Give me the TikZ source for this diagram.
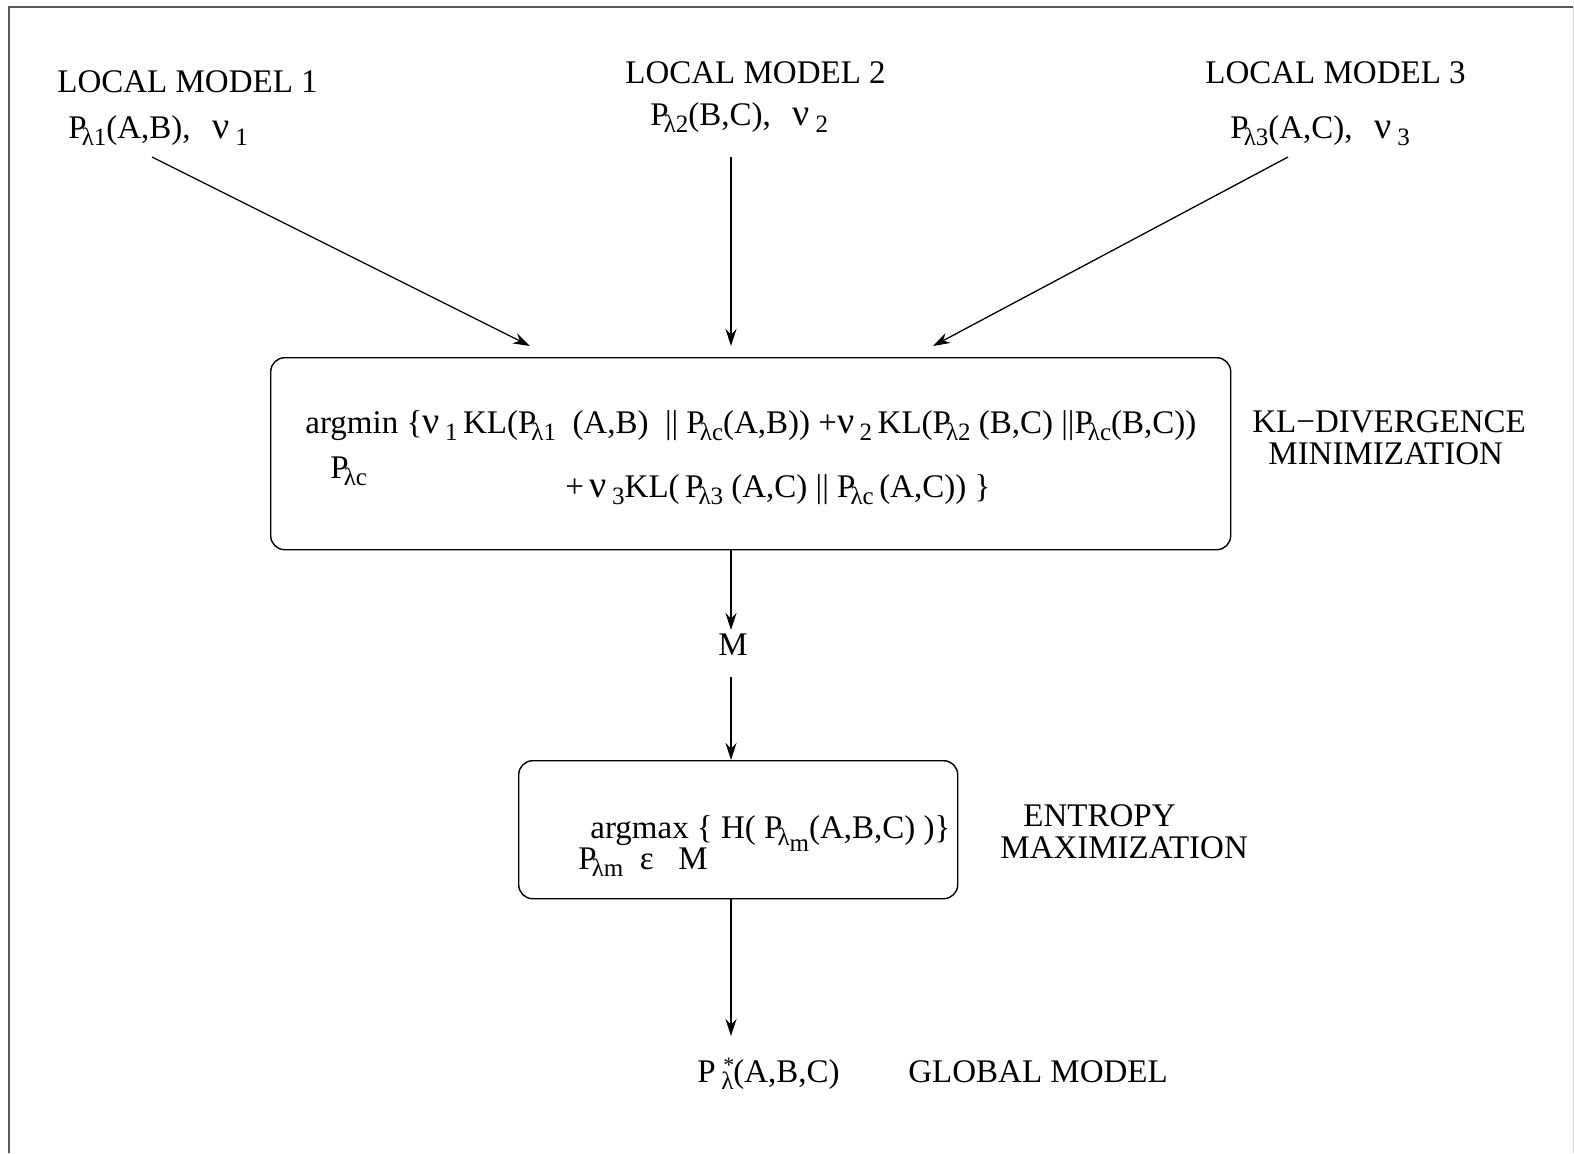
\documentclass[tikz,border=0pt]{standalone}
\usepackage{fontspec}
\setmainfont{Liberation Serif}
\usetikzlibrary{arrows.meta}
\newcommand\sbs[1]{\raisebox{-0.5ex}{\fontsize{12.5}{12.5}\selectfont #1}}
\newcommand\Pk{P\kern-2.5pt}
\newcommand\nuu{{\fontsize{19}{19}\selectfont ν}}
\begin{document}
\begin{tikzpicture}[x=0.5pt,y=-0.5pt,
  txt/.style={inner sep=0pt,anchor=base west,font=\fontsize{16.5}{18}\selectfont},
  arr/.style={-{Stealth[length=8.5pt,width=5.5pt]},line width=0.65pt},
  box/.style={draw,rounded corners=7pt,line width=0.7pt}]
\useasboundingbox (0,0) rectangle (1574,1153);
\draw[line width=1.2pt, black!65] (9,1153) -- (9,7) -- (1573,7);
\draw[line width=0.4pt, black!20] (1573,7) -- (1573,1153);

% local models
\node[txt] (lm1) at (57,92) {LOCAL MODEL 1};
\node[txt] (p1) at (68,138) {\Pk\sbs{λ1}(A,B),\hspace{11pt}\nuu\,\sbs{1}};
\node[txt] (lm2) at (625,83) {LOCAL MODEL 2};
\node[txt] (p2) at (650,125) {\Pk\sbs{λ2}(B,C),\hspace{11pt}\nuu\,\sbs{2}};
\node[txt] (lm3) at (1205,83) {LOCAL MODEL 3};
\node[txt] (p3) at (1230,138) {\Pk\sbs{λ3}(A,C),\hspace{11pt}\nuu\,\sbs{3}};

% KL box
\node[box,minimum width=480pt,minimum height=96pt,anchor=north west] (kl) at (270,357) {};
\node[txt] (kl1) at (305,433) {argmin \{\nuu\,\sbs{1}\,KL(\Pk\sbs{λ1}~ (A,B) ~|| \Pk\sbs{λc}(A,B)) +\nuu\,\sbs{2}\,KL(\Pk\sbs{λ2} (B,C) ||\Pk\sbs{λc}(B,C))};
\node[txt] (klp) at (330,478) {\Pk\sbs{λc}};
\node[txt] (kl2) at (565,497) {+\,\nuu\,\sbs{3}KL(\,\Pk\sbs{λ3} (A,C) || \Pk\sbs{λc}\,(A,C)) \}};
\node[txt] (kllab1) at (1252,432) {KL−DIVERGENCE};
\node[txt] (kllab2) at (1268,464) {MINIMIZATION};

% M
\node[txt,anchor=base] (m) at (733,655) {M};

% entropy box
\node[box,minimum width=219.5pt,minimum height=69pt,anchor=north west] (en) at (518,760) {};
\node[txt] (en1) at (590,838) {argmax \{ H( \Pk\sbs{λ\raisebox{-0.5ex}{m}}(A,B,C) )\}};
\node[txt] (en2) at (578,869) {\Pk\sbs{λm} ~ε~~ M};
\node[txt] (enlab1) at (1023,826) {ENTROPY};
\node[txt] (enlab2) at (1000,858) {MAXIMIZATION};

% global model
\node[txt] (g) at (697,1082) {P\,\rlap{\raisebox{0.6ex}{\fontsize{11}{11}\selectfont \kern1pt*}}\sbs{λ}(A,B,C)};
\node[txt] (glab) at (908,1082) {GLOBAL MODEL};

% connectors
\coordinate (s1) at (152,157);
\coordinate (e1) at (530,346);
\coordinate (s2) at (731,157);
\coordinate (e2) at (731,346);
\coordinate (s3) at (1288,157);
\coordinate (e3) at (933,346);
\coordinate (mt) at (731,630);
\coordinate (mb) at (731,677);
\coordinate (gt) at (731,1036);
\draw[arr] (s1) -- (e1);
\draw[arr] (s2) -- (e2);
\draw[arr] (s3) -- (e3);
\draw[arr] (kl.south -| mt) -- (mt);
\draw[arr] (mb) -- (en.north -| mb);
\draw[arr] (en.south -| gt) -- (gt);
\end{tikzpicture}
\end{document}
